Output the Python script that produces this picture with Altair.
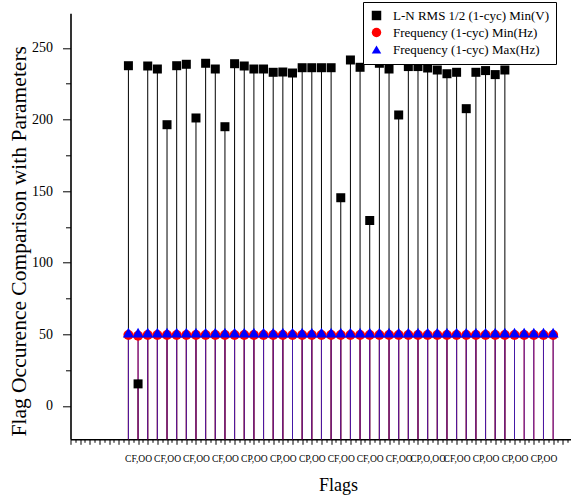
import json
import altair as alt
import pandas as pd

# ---------------- data ----------------
series_names = ["L-N RMS 1/2 (1-cyc) Min(V)", "Frequency (1-cyc) Min(Hz)", "Frequency (1-cyc) Max(Hz)"]

volt_stems = list(range(40))
volt_min = [237.6, 15.4, 237.4, 235.3, 196.4, 237.6, 238.6, 201.1, 239.3, 235.3,
            195.0, 239.0, 237.4, 235.3, 235.3, 233.0, 233.2, 232.5, 236.2, 236.2,
            236.2, 236.2, 145.4, 241.6, 236.5, 129.5, 239.3, 235.3, 203.2, 237.0,
            237.0, 236.0, 234.6, 232.0, 233.0, 207.6, 233.0, 234.2, 231.4, 234.6]

freq_stems = list(range(45))
freq_min = [49.6, 49.0, 49.6, 49.6, 49.6, 49.6, 49.6, 49.6, 49.6, 49.6,
            49.6, 49.6, 49.6, 49.6, 49.6, 49.6, 49.6, 49.6, 49.6, 49.6,
            49.6, 49.6, 49.6, 49.6, 49.6, 49.6, 49.6, 49.6, 49.6, 49.6,
            49.6, 49.6, 49.6, 49.6, 49.6, 49.6, 49.6, 49.6, 49.6, 49.6,
            49.6, 49.6, 49.6, 49.6, 49.6]
freq_max = [51.2, 51.2, 51.2, 51.2, 51.2, 51.2, 51.2, 51.2, 51.2, 51.2,
            51.2, 51.2, 51.2, 51.2, 51.2, 51.2, 51.2, 51.2, 51.2, 51.2,
            51.2, 51.2, 51.2, 51.2, 51.2, 51.2, 51.2, 51.2, 51.2, 51.2,
            51.2, 51.2, 51.2, 51.2, 51.2, 51.2, 51.2, 51.2, 51.2, 51.2,
            51.2, 51.2, 51.2, 51.2, 51.2]

label_stems = [1, 4, 7, 10, 13, 16, 19, 22, 25, 28, 31, 34, 37, 40, 43]
flag_labels = ["CF,OO", "CF,OO", "CF,OO", "CF,OO", "CP,OO", "CP,OO", "CP,OO",
               "CF,OO", "CF,OO", "CF,OO", "CP,O,OO", "CF,OO", "CP,OO", "CP,OO", "CP,OO"]

x_domain = [-6, 45.8]
y_domain = [-23.3, 274.2]

# ---------------- build table ----------------
rows = []
for s, v in zip(volt_stems, volt_min):
    rows.append({"stem": s, "value": v, "series": series_names[0], "k": 0})
for s, v in zip(freq_stems, freq_min):
    rows.append({"stem": s, "value": v, "series": series_names[1], "k": 1})
for s, v in zip(freq_stems, freq_max):
    rows.append({"stem": s, "value": v, "series": series_names[2], "k": 2})
df = pd.DataFrame(rows)

lab_arr = [""] * 46
for s, l in zip(label_stems, flag_labels):
    lab_arr[s] = l
x_label_expr = ("(datum.value >= 0 && datum.value % 1 === 0) ? (" + json.dumps(lab_arr)
                + "[datum.value] || '') : ''")

x_ticks = [x_domain[0] + 0.5 * k for k in range(int((x_domain[1] - x_domain[0]) * 2) + 1)]
y_ticks = list(range(0, 251, 25))

FONT = "Liberation Serif"
colors = ["#000000", "#ff0000", "#0000ff"]
rule_colors = ["#000000", "#ff0000", "#4418a6"]
shapes = ["square", "circle", "triangle-up"]
sizes = [81, 100, 121]

x_enc = alt.X(
    "stem:Q",
    scale=alt.Scale(domain=x_domain, nice=False, zero=False),
    axis=alt.Axis(
        values=x_ticks, tickCount=500, labelExpr=x_label_expr, grid=False,
        title="Flags", titleFont=FONT, titleFontSize=18, titleFontWeight="normal",
        titleX=267.5, titleY=51, titleBaseline="alphabetic", titleAlign="center",
        labelFont=FONT, labelFontSize=9.5, labelPadding=9, labelAngle=0, labelOverlap=False,
        labelColor="#000000", labelFlush=False, labelBound=False,
        tickSize={"condition": {"test": "datum.value % 1 === 0", "value": 5}, "value": 3},
        tickColor="#000000", tickWidth=1, domainColor="#000000", domainWidth=1.6,
    ),
)
y_enc = alt.Y(
    "value:Q",
    scale=alt.Scale(domain=y_domain, nice=False, zero=False),
    axis=alt.Axis(
        values=y_ticks, tickCount=500, grid=False, format="d",
        labelExpr="datum.value % 50 === 0 ? datum.label : ''",
        title="Flag Occurence Comparison with Parameters", titleFont=FONT, titleFontSize=21.5,
        titleFontWeight="normal", titleX=-45, titleY=227.5, titleBaseline="alphabetic",
        titleAlign="center", titleAngle=270,
        labelFont=FONT, labelFontSize=14, labelPadding=10, labelColor="#000000",
        labelOverlap=False,
        tickSize={"condition": {"test": "datum.value % 50 === 0", "value": 8}, "value": 5},
        tickColor="#000000", tickWidth=1, domainColor="#000000", domainWidth=1.6,
    ),
)

legend = alt.Legend(
    title=None, orient="none", legendX=292.5, legendY=-11.3,
    labelFont=FONT, labelFontSize=13, labelColor="#000000",
    symbolSize=90, symbolStrokeWidth=0, rowPadding=3, labelOffset=10,
    padding=7, strokeColor="#000000", fillColor="#ffffff", labelLimit=400,
)
color_enc = alt.Color("series:N", scale=alt.Scale(domain=series_names, range=colors), legend=legend)
shape_enc = alt.Shape("series:N", scale=alt.Scale(domain=series_names, range=shapes), legend=legend)

base = alt.Chart(df)

stems_layer = base.mark_rule(strokeWidth=1).encode(
    x=x_enc,
    y=y_enc,
    y2=alt.datum(y_domain[0]),
    stroke=alt.Stroke("series:N", scale=alt.Scale(domain=series_names, range=rule_colors), legend=None),
    order=alt.Order("k:Q"),
)

point_layers = []
for name, sz in zip(series_names, sizes):
    point_layers.append(
        base.transform_filter(alt.datum.series == name)
        .mark_point(filled=True, opacity=1, strokeWidth=0, size=sz)
        .encode(x=alt.X("stem:Q"), y=alt.Y("value:Q"), color=color_enc, shape=shape_enc)
    )

chart = alt.layer(stems_layer, *point_layers).properties(
    width=500, height=426,
    padding={"left": 70.5, "top": 13.3, "right": 0.5, "bottom": 60.7},
    autosize="none",
    background="#ffffff",
).resolve_scale(stroke="independent", color="shared").configure_view(stroke=None).configure_axis(
    labelFont=FONT, titleFont=FONT)

chart.save("out.html", embed_options={"renderer": "svg", "actions": False})
